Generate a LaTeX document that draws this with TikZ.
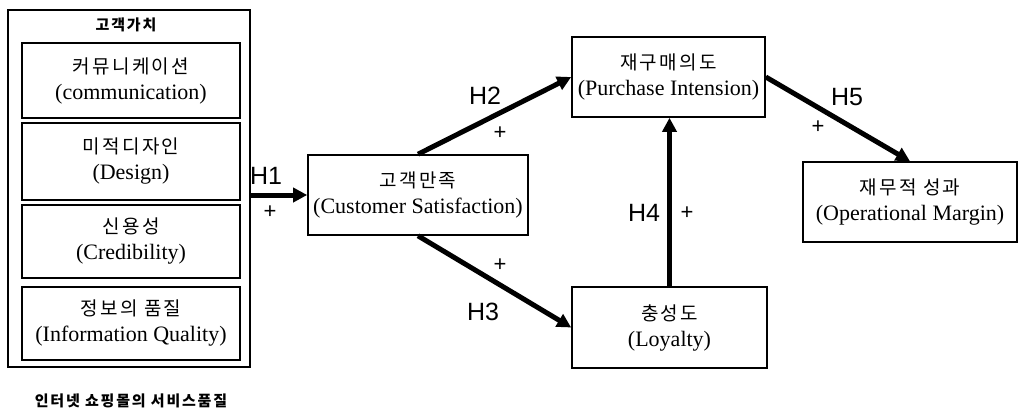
\documentclass[tikz,border=0pt]{standalone}
\usepackage{fontspec}
\setmainfont{Liberation Serif}
\newfontfamily\krfont[LetterSpace=12]{Noto Sans CJK KR}
\newfontfamily\hfont{Liberation Sans}
\usepackage{tikz}
\usetikzlibrary{positioning, arrows.meta}

\begin{document}
\begin{tikzpicture}[
    x=1pt, y=-1pt,
    every node/.style={inner sep=0pt, font=\fontsize{22}{26}\selectfont},
    varbox/.style={draw, line width=1.6pt, align=center},
    smallkr/.style={font=\krfont\bfseries\fontsize{15}{15}\selectfont},
    hyp/.style={font=\hfont\fontsize{25}{25}\selectfont},
    sgn/.style={font=\hfont\fontsize{22}{22}\selectfont},
    path/.style={line width=5pt, -{Triangle[length=14pt,width=14pt]}}
]
    \useasboundingbox (0,0) rectangle (1021,410);

    % 1. Outer frame with the four service-quality factors
    \node[varbox, minimum width=242pt, minimum height=357pt] (outer) at (129,188.5) {};
    \node[smallkr] (title) at (126,25) {고객가치};
    \node[varbox, minimum width=218pt, minimum height=75pt] (c1) at (131,80.5)
        {{\krfont\fontsize{19}{19}\selectfont 커뮤니케이션}\\(communication)};
    \node[varbox, minimum width=218pt, minimum height=77pt] (c2) at (131,161.5)
        {{\krfont\fontsize{19}{19}\selectfont 미적디자인}\\(Design)};
    \node[varbox, minimum width=218pt, minimum height=73pt] (c3) at (131,241.5)
        {{\krfont\fontsize{19}{19}\selectfont 신용성}\\(Credibility)};
    \node[varbox, minimum width=218pt, minimum height=73pt] (c4) at (131,323.5)
        {{\krfont\fontsize{19}{19}\selectfont 정보의 품질}\\(Information Quality)};
    \node[smallkr] (caption) at (131,401) {인터넷 쇼핑몰의 서비스품질};

    % 2. Outcome variables
    \node[varbox, minimum width=220pt, minimum height=80pt] (cs) at (418,195)
        {{\krfont\fontsize{19}{19}\selectfont 고객만족}\\(Customer Satisfaction)};
    \node[varbox, minimum width=193pt, minimum height=80pt] (pi) at (668.5,77)
        {{\krfont\fontsize{19}{19}\selectfont 재구매의도}\\(Purchase Intension)};
    \node[varbox, minimum width=195pt, minimum height=81pt] (lo) at (669.5,327.5)
        {{\krfont\fontsize{19}{19}\selectfont 충성도}\\(Loyalty)};
    \node[varbox, minimum width=214pt, minimum height=80pt] (om) at (910,202)
        {{\krfont\fontsize{19}{19}\selectfont 재무적 성과}\\(Operational Margin)};

    % 3. Hypothesis paths
    \draw[path] (outer.east |- cs.west) -- (cs.west);
    \draw[path] (cs.north) -- (pi.west);
    \draw[path] (cs.south) -- (lo.west);
    \draw[path] (lo.north) -- (lo.north |- pi.south);
    \draw[path] (pi.east) -- (om.north);

    % 4. Labels
    \node[hyp] (h1) at (266,176) {H1};
    \node[sgn] (s1) at (270,212) {+};
    \node[hyp] (h2) at (485,96) {H2};
    \node[sgn] (s2) at (500,133) {+};
    \node[hyp] (h3) at (483,312) {H3};
    \node[sgn] (s3) at (500,265) {+};
    \node[hyp] (h4) at (644,213) {H4};
    \node[sgn] (s4) at (687,213) {+};
    \node[hyp] (h5) at (847,97) {H5};
    \node[sgn] (s5) at (818,127) {+};
\end{tikzpicture}
\end{document}
